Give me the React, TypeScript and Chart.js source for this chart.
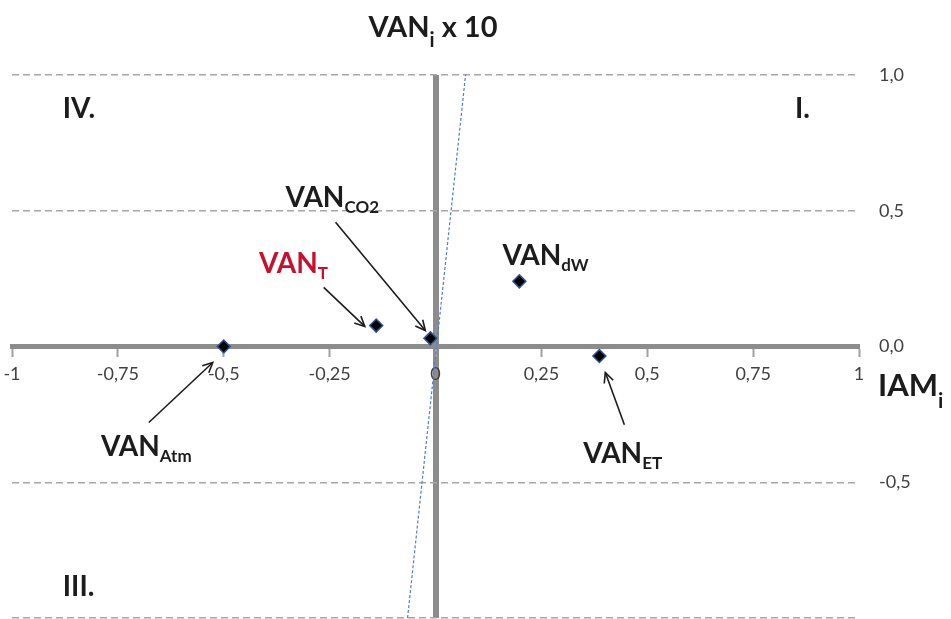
import React, { useEffect, useRef } from 'react';
import { Chart, registerables } from 'chart.js';

Chart.register(...registerables);

// ---- data ----
const pointNames = ['Atm', 'T', 'CO2', 'dW', 'ET'];
const iamValues = [-0.5, -0.14, -0.012, 0.198, 0.387];
const vanValues = [0, 0.077, 0.03, 0.24, -0.035];

const trendIam = [-0.066, 0.071];
const trendVan = [-1, 1];

const xTickValues = [-1, -0.75, -0.5, -0.25, 0, 0.25, 0.5, 0.75, 1];
const xTickLabels = ['-1', '-0,75', '-0,5', '-0,25', '0', '0,25', '0,5', '0,75', '1'];
const yTickValues = [-1, -0.5, 0, 0.5, 1];
const yTickLabels = ['', '-0,5', '0,0', '0,5', '1,0'];

// ---- annotations (in data units) ----
const DARK = '#1c1c1c';
const RED = '#c8102e';

type TextAnn = { main: string; sub: string; rest?: string; x: number; y: number; color: string; size: number; subSize: number; subDy: number };
const textAnnotations: TextAnn[] = [
  { main: 'VAN', sub: 'i', rest: ' x 10', x: -0.158, y: 1.14, color: DARK, size: 29, subSize: 20, subDy: 10 },
  { main: 'IAM', sub: 'i', x: 1.045, y: -0.181, color: DARK, size: 31, subSize: 21, subDy: 12 },
  { main: 'IV.', sub: '', x: -0.88, y: 0.841, color: DARK, size: 28, subSize: 17, subDy: 5 },
  { main: 'I.', sub: '', x: 0.849, y: 0.841, color: DARK, size: 28, subSize: 17, subDy: 5 },
  { main: 'III.', sub: '', x: -0.88, y: -0.919, color: DARK, size: 28, subSize: 17, subDy: 5 },
  { main: 'VAN', sub: 'CO2', x: -0.354, y: 0.513, color: DARK, size: 28, subSize: 17, subDy: 6 },
  { main: 'VAN', sub: 'T', x: -0.417, y: 0.269, color: RED, size: 28, subSize: 17, subDy: 6 },
  { main: 'VAN', sub: 'dW', x: 0.158, y: 0.299, color: DARK, size: 28, subSize: 17, subDy: 6 },
  { main: 'VAN', sub: 'Atm', x: -0.79, y: -0.402, color: DARK, size: 28, subSize: 17, subDy: 6 },
  { main: 'VAN', sub: 'ET', x: 0.349, y: -0.428, color: DARK, size: 28, subSize: 17, subDy: 6 },
];

type ArrowAnn = { fx: number; fy: number; tx: number; ty: number };
const arrowAnnotations: ArrowAnn[] = [
  { fx: -0.677, fy: -0.28, tx: -0.526, ty: -0.059 },
  { fx: -0.264, fy: 0.218, tx: -0.167, ty: 0.074 },
  { fx: -0.236, fy: 0.458, tx: -0.024, ty: 0.059 },
  { fx: 0.446, fy: -0.288, tx: 0.401, ty: -0.096 },
];

const FONT = 'Lato, "Liberation Sans", sans-serif';

const annotationPlugin = {
  id: 'annotations',
  afterDraw(chart: any) {
    const { ctx, scales } = chart;
    const xs = scales.x;
    const ys = scales.y;
    ctx.save();
    // arrows
    ctx.strokeStyle = DARK;
    ctx.lineWidth = 1.6;
    arrowAnnotations.forEach((a) => {
      const x1 = xs.getPixelForValue(a.fx);
      const y1 = ys.getPixelForValue(a.fy);
      const x2 = xs.getPixelForValue(a.tx);
      const y2 = ys.getPixelForValue(a.ty);
      ctx.beginPath();
      ctx.moveTo(x1, y1);
      ctx.lineTo(x2, y2);
      ctx.stroke();
      const ang = Math.atan2(y2 - y1, x2 - x1);
      const len = 11;
      const spread = 0.45;
      ctx.beginPath();
      ctx.moveTo(x2 - len * Math.cos(ang - spread), y2 - len * Math.sin(ang - spread));
      ctx.lineTo(x2, y2);
      ctx.lineTo(x2 - len * Math.cos(ang + spread), y2 - len * Math.sin(ang + spread));
      ctx.stroke();
    });
    // texts
    ctx.textBaseline = 'alphabetic';
    ctx.textAlign = 'left';
    textAnnotations.forEach((t) => {
      let x = xs.getPixelForValue(t.x);
      const y = ys.getPixelForValue(t.y);
      ctx.fillStyle = t.color;
      ctx.font = `bold ${t.size}px ${FONT}`;
      ctx.fillText(t.main, x, y);
      x += ctx.measureText(t.main).width;
      if (t.sub) {
        ctx.font = `bold ${t.subSize}px ${FONT}`;
        ctx.fillText(t.sub, x, y + t.subDy);
        x += ctx.measureText(t.sub).width;
      }
      if (t.rest) {
        ctx.font = `bold ${t.size}px ${FONT}`;
        ctx.fillText(t.rest, x, y);
      }
    });
    ctx.restore();
  },
};

export default function App() {
  const ref = useRef<HTMLCanvasElement | null>(null);
  useEffect(() => {
    document.body.style.margin = '0';
    document.body.style.overflow = 'hidden';
    const canvas = ref.current;
    if (!canvas) return;
    const chart = new Chart(canvas, {
      type: 'scatter',
      data: {
        datasets: [
          {
            label: 'trend',
            data: trendIam.map((x, i) => ({ x, y: trendVan[i] })),
            showLine: true,
            borderColor: '#4f7fc9',
            borderWidth: 1.2,
            borderDash: [3, 2],
            pointRadius: 0,
            fill: false,
          } as any,
          {
            label: 'VAN',
            data: iamValues.map((x, i) => ({ x, y: vanValues[i], name: pointNames[i] })),
            pointStyle: 'rectRot',
            pointRadius: 6.5,
            backgroundColor: '#000000',
            borderColor: '#2f5597',
            borderWidth: 1.5,
          } as any,
        ],
      },
      options: {
        animation: false,
        responsive: false,
        devicePixelRatio: 1,
        layout: { padding: { left: 12, top: 75, right: 0, bottom: 0 } },
        plugins: { legend: { display: false }, tooltip: { enabled: false }, title: { display: false } },
        scales: {
          x: {
            type: 'linear',
            position: { y: 0 } as any,
            min: -1,
            max: 1,
            afterBuildTicks: (s: any) => {
              s.ticks = xTickValues.map((v) => ({ value: v }));
            },
            afterFit: (s: any) => {
              s.paddingTop = 0;
              s.paddingBottom = 0;
              s.paddingLeft = 0;
              s.paddingRight = 0;
            },
            ticks: {
              callback: (_v: any, i: number) => xTickLabels[i],
              font: { family: FONT, size: 18 },
              color: '#404040',
              padding: 9,
              maxRotation: 0,
              autoSkip: false,
            },
            grid: {
              drawOnChartArea: true,
              drawTicks: true,
              tickLength: 8,
              tickColor: '#a0a0a0',
              tickWidth: 2,
              color: (c: any) => (c.tick && c.tick.value === 0 ? '#8c8c8c' : 'rgba(0,0,0,0)'),
              lineWidth: (c: any) => (c.tick && c.tick.value === 0 ? 6 : 1),
            },
            border: { display: true, color: '#8c8c8c', width: 5 },
          },
          y: {
            type: 'linear',
            position: 'right',
            min: -1,
            max: 1,
            afterBuildTicks: (s: any) => {
              s.ticks = yTickValues.map((v) => ({ value: v }));
            },
            afterFit: (s: any) => {
              s.width = 92;
              s.paddingTop = 0;
              s.paddingBottom = 0;
            },
            ticks: {
              callback: (_v: any, i: number) => yTickLabels[i],
              font: { family: FONT, size: 18 },
              color: '#404040',
              padding: 20,
              crossAlign: 'near',
            },
            grid: {
              drawTicks: false,
              color: (c: any) => (c.tick && c.tick.value === 0 ? 'rgba(0,0,0,0)' : '#a6a6a6'),
              lineWidth: 1.5,
            },
            border: { display: false, dash: [7, 4] },
          },
        },
      },
      plugins: [annotationPlugin],
    });
    return () => chart.destroy();
  }, []);
  return (
    <div style={{ width: 951, height: 619, overflow: 'hidden', position: 'relative' }}>
      <canvas ref={ref} width={951} height={626} style={{ display: 'block' }} />
    </div>
  );
}
